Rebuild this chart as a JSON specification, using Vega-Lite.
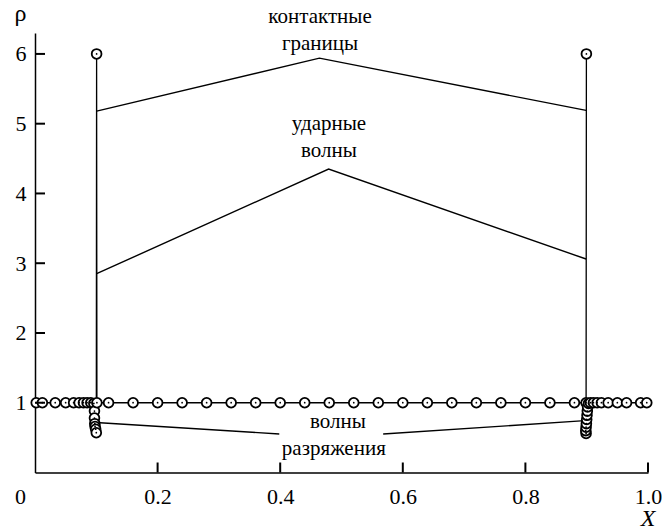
{
  "$schema": "https://vega.github.io/schema/vega-lite/v6.json",
  "autosize": "none",
  "width": 613,
  "height": 439.5,
  "padding": {"left": 35, "top": 33, "right": 14, "bottom": 58.5},
  "background": "white",
  "config": {
    "view": {"stroke": null},
    "font": "Liberation Serif",
    "axis": {
      "domainColor": "black",
      "domainWidth": 1.5,
      "ticks": false,
      "grid": false,
      "labelColor": "black",
      "labelFont": "Liberation Serif",
      "labelFontSize": 22,
      "titleFont": "Liberation Serif",
      "titleFontWeight": "normal",
      "titleColor": "black"
    }
  },
  "datasets": {
    "solution": [
      {"i": 1, "x": 0.002, "rho": 1.0},
      {"i": 2, "x": 0.012, "rho": 1.0},
      {"i": 3, "x": 0.033, "rho": 1.0},
      {"i": 4, "x": 0.05, "rho": 1.0},
      {"i": 5, "x": 0.063, "rho": 1.0},
      {"i": 6, "x": 0.072, "rho": 1.0},
      {"i": 7, "x": 0.079, "rho": 1.0},
      {"i": 8, "x": 0.085, "rho": 1.0},
      {"i": 9, "x": 0.091, "rho": 1.0},
      {"i": 10, "x": 0.096, "rho": 0.99},
      {"i": 11, "x": 0.097, "rho": 0.88},
      {"i": 12, "x": 0.097, "rho": 0.78},
      {"i": 13, "x": 0.0975, "rho": 0.7},
      {"i": 14, "x": 0.098, "rho": 0.66},
      {"i": 15, "x": 0.099, "rho": 0.62},
      {"i": 16, "x": 0.1, "rho": 0.57},
      {"i": 17, "x": 0.1005, "rho": 6.0},
      {"i": 18, "x": 0.101, "rho": 1.0},
      {"i": 19, "x": 0.12, "rho": 1.0},
      {"i": 20, "x": 0.16, "rho": 1.0},
      {"i": 21, "x": 0.2, "rho": 1.0},
      {"i": 22, "x": 0.24, "rho": 1.0},
      {"i": 23, "x": 0.28, "rho": 1.0},
      {"i": 24, "x": 0.32, "rho": 1.0},
      {"i": 25, "x": 0.36, "rho": 1.0},
      {"i": 26, "x": 0.4, "rho": 1.0},
      {"i": 27, "x": 0.44, "rho": 1.0},
      {"i": 28, "x": 0.48, "rho": 1.0},
      {"i": 29, "x": 0.52, "rho": 1.0},
      {"i": 30, "x": 0.56, "rho": 1.0},
      {"i": 31, "x": 0.6, "rho": 1.0},
      {"i": 32, "x": 0.64, "rho": 1.0},
      {"i": 33, "x": 0.68, "rho": 1.0},
      {"i": 34, "x": 0.72, "rho": 1.0},
      {"i": 35, "x": 0.76, "rho": 1.0},
      {"i": 36, "x": 0.8, "rho": 1.0},
      {"i": 37, "x": 0.84, "rho": 1.0},
      {"i": 38, "x": 0.88, "rho": 1.0},
      {"i": 39, "x": 0.899, "rho": 1.0},
      {"i": 40, "x": 0.8995, "rho": 6.0},
      {"i": 41, "x": 0.899, "rho": 0.56},
      {"i": 42, "x": 0.8985, "rho": 0.6},
      {"i": 43, "x": 0.899, "rho": 0.65},
      {"i": 44, "x": 0.8995, "rho": 0.7},
      {"i": 45, "x": 0.9, "rho": 0.76},
      {"i": 46, "x": 0.9005, "rho": 0.82},
      {"i": 47, "x": 0.901, "rho": 0.88},
      {"i": 48, "x": 0.9015, "rho": 0.94},
      {"i": 49, "x": 0.903, "rho": 0.99},
      {"i": 50, "x": 0.906, "rho": 1.0},
      {"i": 51, "x": 0.911, "rho": 1.0},
      {"i": 52, "x": 0.917, "rho": 1.0},
      {"i": 53, "x": 0.924, "rho": 1.0},
      {"i": 54, "x": 0.935, "rho": 1.0},
      {"i": 55, "x": 0.95, "rho": 1.0},
      {"i": 56, "x": 0.965, "rho": 1.0},
      {"i": 57, "x": 0.988, "rho": 1.0},
      {"i": 58, "x": 0.998, "rho": 1.0}
    ],
    "pointers": [
      {"g": "contact", "k": 1, "x": 0.1006, "rho": 5.18},
      {"g": "contact", "k": 2, "x": 0.464, "rho": 5.94},
      {"g": "contact", "k": 3, "x": 0.899, "rho": 5.19},
      {"g": "shock", "k": 1, "x": 0.1006, "rho": 2.85},
      {"g": "shock", "k": 2, "x": 0.479, "rho": 4.35},
      {"g": "shock", "k": 3, "x": 0.899, "rho": 3.06},
      {"g": "rareL", "k": 1, "x": 0.106, "rho": 0.714},
      {"g": "rareL", "k": 2, "x": 0.3985, "rho": 0.552},
      {"g": "rareR", "k": 1, "x": 0.568, "rho": 0.552},
      {"g": "rareR", "k": 2, "x": 0.897, "rho": 0.743}
    ],
    "xticks": [
      {"x": 0.2, "rho": 0}, {"x": 0.4, "rho": 0}, {"x": 0.6, "rho": 0},
      {"x": 0.8, "rho": 0}, {"x": 1.0, "rho": 0}
    ],
    "yticks": [
      {"x": 0, "rho": 1}, {"x": 0, "rho": 2}, {"x": 0, "rho": 3},
      {"x": 0, "rho": 4}, {"x": 0, "rho": 5}, {"x": 0, "rho": 6}
    ],
    "labels": [
      {"text": "контактные", "x": 0.465, "rho": 6.445},
      {"text": "границы", "x": 0.465, "rho": 6.062},
      {"text": "ударные", "x": 0.4796, "rho": 4.914},
      {"text": "волны", "x": 0.4796, "rho": 4.527},
      {"text": "волны", "x": 0.494, "rho": 0.634},
      {"text": "разряжения", "x": 0.4875, "rho": 0.25}
    ]
  },
  "encoding": {
    "x": {
      "field": "x",
      "type": "quantitative",
      "scale": {"domain": [0, 1], "nice": false, "zero": false},
      "axis": {
        "values": [0, 0.2, 0.4, 0.6, 0.8, 1.0],
        "labelExpr": "datum.value == 0 ? '0' : format(datum.value, '.1f')",
        "labelPadding": 14,
        "labelOffset": {"condition": {"test": "datum.value == 0", "value": -15}, "value": 0},
        "labelFlush": false,
        "labelOverlap": false,
        "title": "X",
        "titleFontStyle": "italic",
        "titleFontSize": 24,
        "titleAnchor": "end",
        "titleAlign": "right",
        "titleBaseline": "alphabetic",
        "titleX": 620,
        "titleY": 53
      }
    },
    "y": {
      "field": "rho",
      "type": "quantitative",
      "scale": {"domain": [0, 6.3], "nice": false, "zero": false},
      "axis": {
        "values": [1, 2, 3, 4, 5, 6],
        "labelPadding": 9,
        "labelOverlap": false,
        "title": "ρ",
        "titleAngle": 0,
        "titleFontSize": 24,
        "titleAlign": "center",
        "titleBaseline": "alphabetic",
        "titleX": -15,
        "titleY": -13
      }
    }
  },
  "layer": [
    {
      "data": {"name": "pointers"},
      "mark": {"type": "line", "color": "black", "strokeWidth": 1.4},
      "encoding": {
        "detail": {"field": "g"},
        "order": {"field": "k", "type": "quantitative"}
      }
    },
    {
      "data": {"name": "solution"},
      "mark": {"type": "line", "color": "black", "strokeWidth": 1.3},
      "encoding": {"order": {"field": "i", "type": "quantitative"}}
    },
    {
      "data": {"name": "solution"},
      "mark": {"type": "point", "shape": "circle", "filled": true, "fill": "white", "stroke": "black", "strokeWidth": 1.8, "size": 95, "opacity": 1}
    },
    {
      "data": {"name": "solution"},
      "mark": {"type": "point", "shape": "circle", "filled": true, "color": "black", "size": 3, "opacity": 1}
    },
    {
      "data": {"name": "labels"},
      "mark": {"type": "text", "font": "Liberation Serif", "fontSize": 21, "color": "black", "align": "center", "baseline": "alphabetic"},
      "encoding": {"text": {"field": "text"}}
    },
    {
      "data": {"name": "xticks"},
      "mark": {"type": "tick", "orient": "vertical", "color": "black", "size": 10, "thickness": 2, "yOffset": -5, "opacity": 1}
    },
    {
      "data": {"name": "yticks"},
      "mark": {"type": "tick", "orient": "horizontal", "color": "black", "size": 10, "thickness": 2, "xOffset": 5, "opacity": 1}
    }
  ]
}
